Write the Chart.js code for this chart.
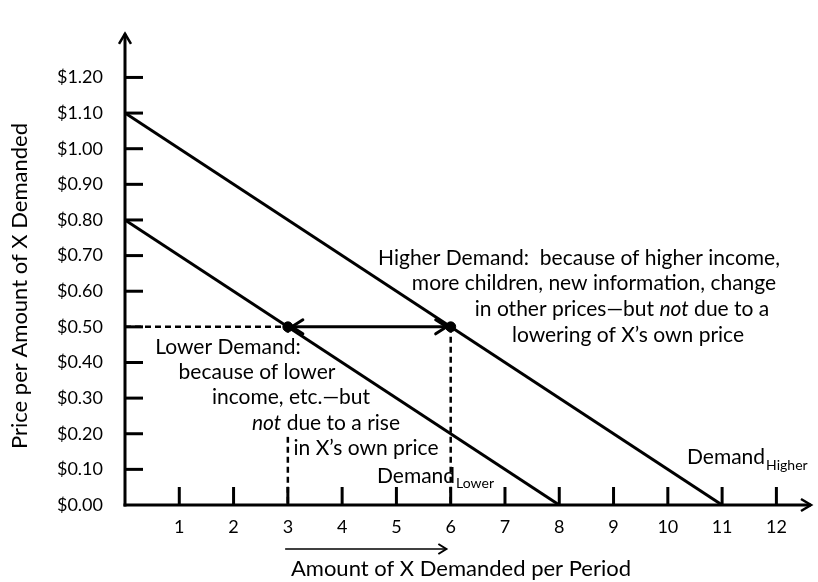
<!DOCTYPE html>
<html><head><meta charset="utf-8">
<script src="https://cdn.jsdelivr.net/npm/chart.js@4/dist/chart.umd.min.js"></script>
<style>html,body{margin:0;padding:0;background:#fff}</style>
</head><body>
<canvas id="c" width="818" height="582"></canvas>
<script>
// ---- data ----
const xTickValues = [1,2,3,4,5,6,7,8,9,10,11,12];
const yTickValues = [0,0.1,0.2,0.3,0.4,0.5,0.6,0.7,0.8,0.9,1.0,1.1,1.2];
const demandHigherQ = [0, 11];
const demandHigherP = [1.10, 0.00];
const demandLowerQ = [0, 8];
const demandLowerP = [0.80, 0.00];
const pointQ = [3, 6];
const pointP = [0.50, 0.50];
const bottomArrowQ = [2.95, 5.92];
const xTitle = 'Amount of X Demanded per Period';
const yTitle = 'Price per Amount of X Demanded';
const higherText = [
  [['Higher Demand:  because of higher income,', false]],
  [['more children, new information, change', false]],
  [['in other prices\u2014but ', false], ['not', true], [' due to a', false]],
  [['lowering of X\u2019s own price', false]]
];
const lowerText = [
  [['Lower Demand:', false]],
  [['because of lower', false]],
  [['income, etc.\u2014but', false]],
  [['not', true], [' due to a rise', false]],
  [['in X\u2019s own price', false]]
];

const FONT = 'Lato, "Open Sans", sans-serif';
const TXT = 21;
const HC = [579, 594, 622, 628], HY = [258, 283, 309, 335];
const LC = [228, 257, 291, 326, 366], LY = [347, 372, 397, 423, 448];

function pts(q, p) { return q.map((v, i) => ({x: v, y: p[i]})); }

function segWidths(ctx, segs, size) {
  return segs.map(([t, it]) => { ctx.font = (it ? 'italic ' : '') + size + 'px ' + FONT; return ctx.measureText(t).width; });
}
function drawSegLine(ctx, segs, cx, cy, size) {
  const w = segWidths(ctx, segs, size);
  const total = w.reduce((a, b) => a + b, 0);
  let x = cx - total / 2;
  ctx.fillStyle = '#000';
  ctx.textBaseline = 'middle'; ctx.textAlign = 'left';
  segs.forEach(([t, it], i) => { ctx.font = (it ? 'italic ' : '') + size + 'px ' + FONT; ctx.fillText(t, x, cy); x += w[i]; });
}
function whiteBox(ctx, segs, cx, cy, size) {
  const total = segWidths(ctx, segs, size).reduce((a, b) => a + b, 0);
  ctx.fillStyle = '#fff';
  ctx.fillRect(cx - total / 2 - 1, cy - 13.5, total + 2, 27);
}
function drawSub(ctx, main, sub, left, cy, subDy) {
  ctx.fillStyle = '#000'; ctx.textBaseline = 'middle'; ctx.textAlign = 'left';
  ctx.font = TXT + 'px ' + FONT; ctx.fillText(main, left, cy);
  const w = ctx.measureText(main).width;
  ctx.font = '14px ' + FONT; ctx.fillText(sub, left + w + 1, cy + subDy);
}
function chevron(ctx, tx, ty, dx, dy, len, half) {
  const px = -dy, py = dx;
  ctx.beginPath();
  ctx.moveTo(tx - dx * len + px * half, ty - dy * len + py * half);
  ctx.lineTo(tx, ty);
  ctx.lineTo(tx - dx * len - px * half, ty - dy * len - py * half);
  ctx.stroke();
}

const annot = {
  id: 'annot',
  afterDatasetDraw(chart, args) {
    // after the dashed drop line at Q=3 is drawn (and before the demand lines), mask it behind the text
    if (args.index !== 3) return;
    const ctx = chart.ctx;
    ctx.save();
    lowerText.forEach((s, i) => whiteBox(ctx, s, LC[i], LY[i], TXT));
    ctx.restore();
  },
  afterDatasetsDraw(chart) {
    const ctx = chart.ctx, xs = chart.scales.x, ys = chart.scales.y;
    ctx.save();
    const y5 = ys.getPixelForValue(pointP[0]);
    const xa = xs.getPixelForValue(pointQ[0]) + 4, xb = xs.getPixelForValue(pointQ[1]) - 4;
    ctx.strokeStyle = '#000'; ctx.lineWidth = 3; ctx.lineCap = 'round'; ctx.lineJoin = 'round';
    ctx.beginPath(); ctx.moveTo(xa, y5); ctx.lineTo(xb, y5); ctx.stroke();
    chevron(ctx, xa, y5, -1, 0, 11, 7);
    chevron(ctx, xb, y5, 1, 0, 11, 7);
    higherText.forEach((s, i) => drawSegLine(ctx, s, HC[i], HY[i], TXT));
    lowerText.forEach((s, i) => drawSegLine(ctx, s, LC[i], LY[i], TXT));
    drawSub(ctx, 'Demand', 'Lower', 377, 476, 7);
    drawSub(ctx, 'Demand', 'Higher', 687, 457, 8);
    ctx.restore();
  },
  afterDraw(chart) {
    const ctx = chart.ctx, xs = chart.scales.x, ys = chart.scales.y, a = chart.chartArea;
    ctx.save();
    ctx.strokeStyle = '#000'; ctx.lineWidth = 3; ctx.lineCap = 'butt'; ctx.lineJoin = 'miter';
    const x0 = xs.getPixelForValue(0), y0 = ys.getPixelForValue(0);
    ctx.beginPath(); ctx.moveTo(x0, y0 + 1.5); ctx.lineTo(x0, a.top + 1); ctx.stroke();
    ctx.beginPath(); ctx.moveTo(x0 - 1.5, y0); ctx.lineTo(a.right - 1, y0); ctx.stroke();
    ctx.lineWidth = 2.5;
    chevron(ctx, x0, a.top + 1, 0, -1, 10, 6);
    chevron(ctx, a.right - 1, y0, 1, 0, 10, 6);
    ctx.lineWidth = 3;
    yTickValues.forEach(v => { if (v === 0) return; const y = ys.getPixelForValue(v); ctx.beginPath(); ctx.moveTo(x0, y); ctx.lineTo(x0 + 18, y); ctx.stroke(); });
    xTickValues.forEach(v => { const x = xs.getPixelForValue(v); ctx.beginPath(); ctx.moveTo(x, y0); ctx.lineTo(x, y0 - 18); ctx.stroke(); });
    const ba = xs.getPixelForValue(bottomArrowQ[0]), bb = xs.getPixelForValue(bottomArrowQ[1]);
    ctx.lineWidth = 1.3;
    ctx.beginPath(); ctx.moveTo(ba, 549); ctx.lineTo(bb, 549); ctx.stroke();
    ctx.lineWidth = 2;
    chevron(ctx, bb, 549, 1, 0, 8, 5);
    ctx.fillStyle = '#000'; ctx.font = '22px ' + FONT; ctx.textAlign = 'center'; ctx.textBaseline = 'middle';
    ctx.fillText(xTitle, 461, 569);
    ctx.translate(20, 286); ctx.rotate(-Math.PI / 2); ctx.fillText(yTitle, 0, 0);
    ctx.restore();
  }
};

const lineStyle = {borderColor: '#000', borderWidth: 3, showLine: true, pointRadius: 0, fill: false};
const dashStyle = {borderColor: '#000', borderWidth: 2.5, showLine: true, pointRadius: 0, fill: false, borderDash: [6, 4]};

new Chart(document.getElementById('c'), {
  type: 'scatter',
  data: {
    datasets: [
      Object.assign({label: 'Demand Higher', data: pts(demandHigherQ, demandHigherP)}, lineStyle),
      Object.assign({label: 'Demand Lower', data: pts(demandLowerQ, demandLowerP)}, lineStyle),
      Object.assign({label: 'price line', data: pts([0, pointQ[0]], [pointP[0], pointP[0]])}, dashStyle),
      Object.assign({label: 'drop 1', data: pts([pointQ[0], pointQ[0]], [pointP[0], 0])}, dashStyle),
      Object.assign({label: 'drop 2', data: pts([pointQ[1], pointQ[1]], [pointP[1], 0])}, dashStyle),
      {label: 'points', data: pts(pointQ, pointP), pointRadius: 5, pointBackgroundColor: '#000', pointBorderColor: '#000', showLine: false}
    ]
  },
  options: {
    responsive: false, animation: false, devicePixelRatio: 1,
    layout: {padding: {top: 8, right: 2, left: 0, bottom: 0}},
    plugins: {legend: {display: false}, tooltip: {enabled: false}},
    scales: {
      x: {
        type: 'linear', min: 0, max: 12.656,
        afterBuildTicks: s => { s.ticks = xTickValues.map(v => ({value: v})); },
        afterFit: s => { s.height = 77; },
        grid: {display: false, drawTicks: false}, border: {display: false},
        ticks: {color: '#000', font: {family: FONT, size: 18}, padding: 11, autoSkip: false, maxRotation: 0}
      },
      y: {
        type: 'linear', min: 0, max: 1.3253,
        afterBuildTicks: s => { s.ticks = yTickValues.map(v => ({value: v})); },
        afterFit: s => { s.width = 125; },
        grid: {display: false, drawTicks: false}, border: {display: false},
        ticks: {color: '#000', font: {family: FONT, size: 18}, padding: 22, autoSkip: false, callback: v => '$' + Number(v).toFixed(2)}
      }
    }
  },
  plugins: [annot]
});
</script>
</body></html>
